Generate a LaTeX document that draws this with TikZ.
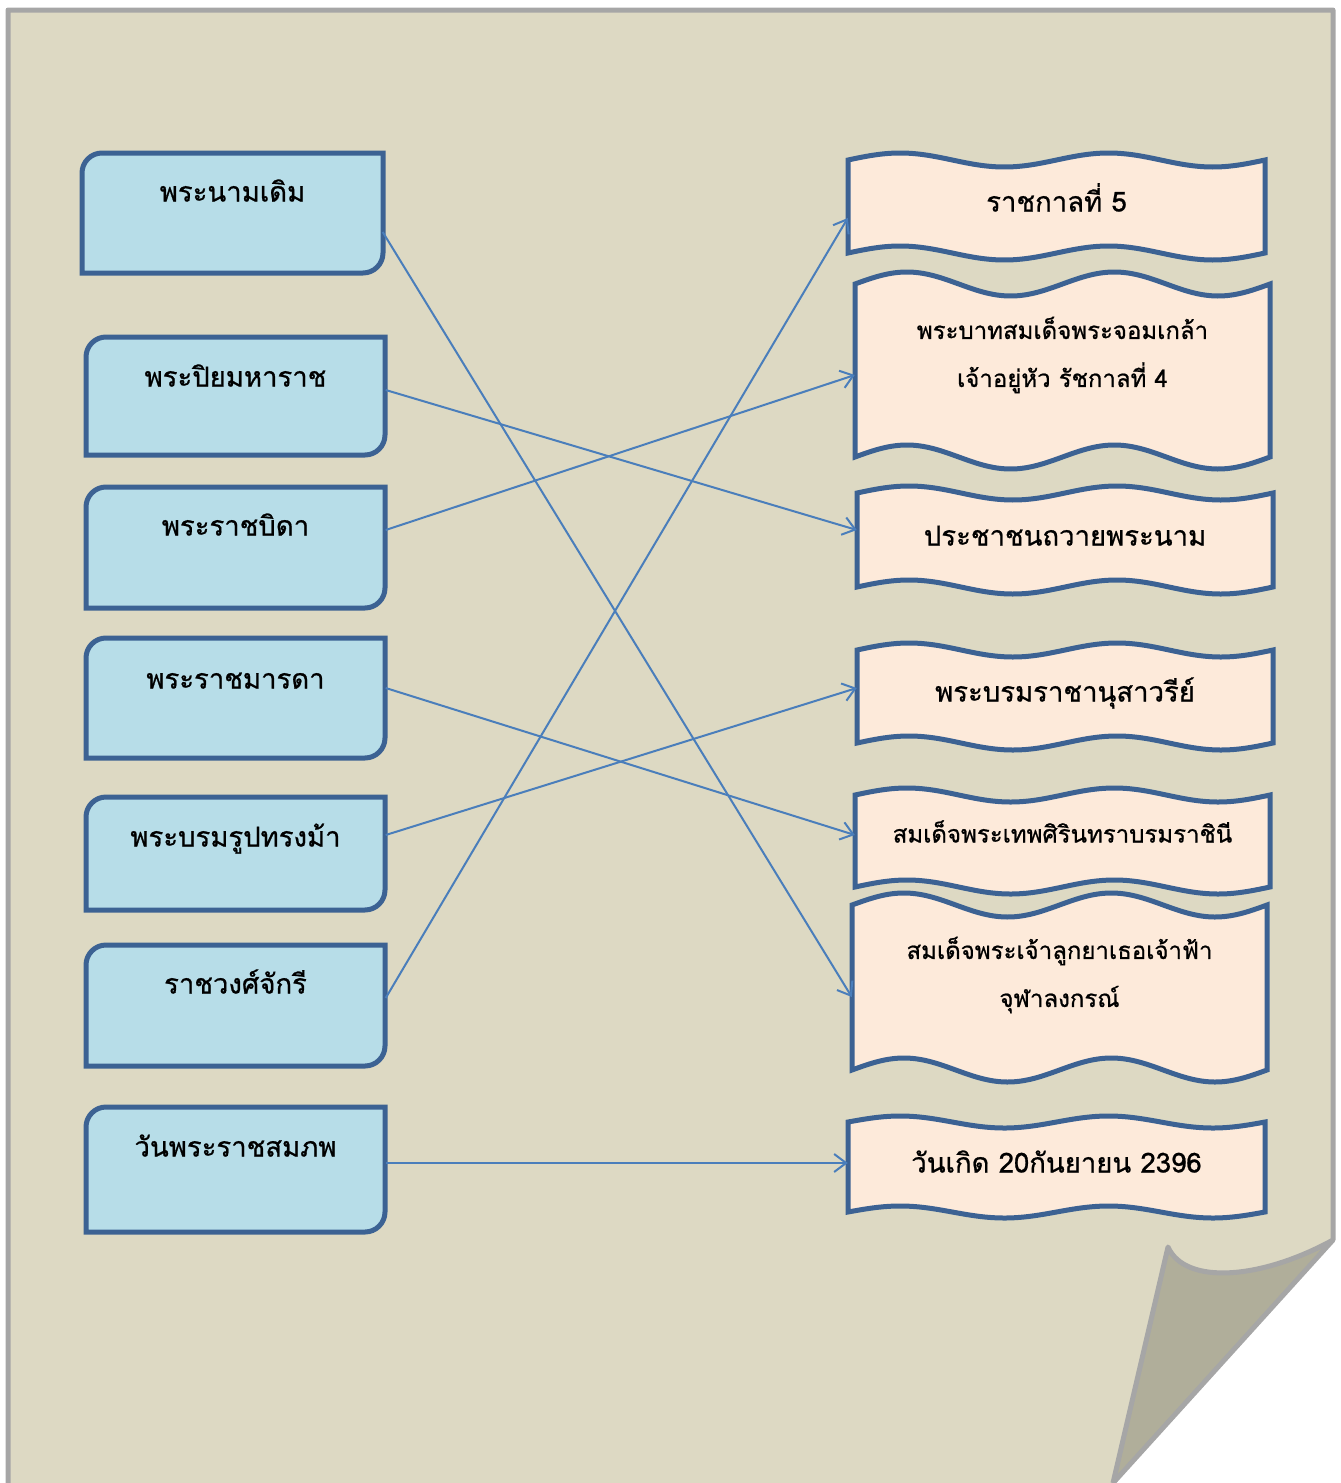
\documentclass[tikz,border=0pt]{standalone}
\usepackage{fontspec}
\newfontfamily\thai[Script=Thai,FakeBold=0.8]{Loma}
\usepackage{tikz}
\usetikzlibrary{calc,arrows.meta}
\definecolor{paper}{HTML}{DDD9C3}
\definecolor{paperfold}{HTML}{B0AE9A}
\definecolor{paperedge}{HTML}{A6A6A6}
\definecolor{boxblue}{HTML}{B7DDE8}
\definecolor{boxpeach}{HTML}{FDEADA}
\definecolor{boxedge}{HTML}{3C6293}
\definecolor{linkblue}{HTML}{4A7EBB}
\def\snipbox(#1,#2)(#3,#4){\draw[snip] (#1+20,#2) -- (#3,#2) -- (#3,#4-20) .. controls (#3,#4-9) and (#3-9,#4) .. (#3-20,#4) -- (#1,#4) -- (#1,#2+20) .. controls (#1,#2+9) and (#1+9,#2) .. (#1+20,#2) -- cycle;}
\def\wavebox(#1,#2)(#3,#4)[#5]{\draw[wave] plot[domain=#1:#3, samples=80, smooth] (\x, {#2-#5*sin((\x-#1)/(#3-#1)*720)}) -- plot[domain=#3:#1, samples=80, smooth] (\x, {#4-#5*sin((\x-#1)/(#3-#1)*720)}) -- cycle;}

\begin{document}
\begin{tikzpicture}[x=1pt, y=-1pt,
		snip/.style={line width=5, draw=boxedge, fill=boxblue},
		wave/.style={line width=5, draw=boxedge, fill=boxpeach},
		lefttext/.style={font=\thai\fontsize{27.5}{32}\selectfont, minimum width=300, text height=20, text depth=7, inner sep=0},
		righttext/.style={font=\thai\fontsize{27.5}{32}\selectfont, text height=20, text depth=7, inner sep=0},
		twoline/.style={font=\thai\fontsize{24}{48}\selectfont, align=center, inner sep=0},
		link/.style={draw=linkblue, line width=2, -{Straight Barb[length=12, width=18, line width=2]}}]
			%%%%% START %%%%%
			\useasboundingbox (0,0) rectangle (1341,1483);
			
			% paper with curled corner
			\fill[paper] (8,1483) -- (8,10) -- (1333,10) -- (1333,1240) .. controls (1260,1280) and (1185,1285) .. (1168,1247) -- (1113,1483) -- cycle;
			\fill[paperfold] (1333,1240) .. controls (1260,1280) and (1185,1285) .. (1168,1247) -- (1113,1483) -- cycle;
			\draw[line width=5, draw=paperedge, line join=round] (8,1483) -- (8,10) -- (1333,10) -- (1333,1240) .. controls (1260,1280) and (1185,1285) .. (1168,1247) -- (1113,1483);
			\draw[line width=5, draw=paperedge] (1333,1240) -- (1113,1483);
			
			% left column
			\snipbox(82,153)(383,273)
			\snipbox(86,337)(385,455)
			\snipbox(86,487)(385,608)
			\snipbox(86,638)(385,758)
			\snipbox(86,797)(385,910)
			\snipbox(86,945)(385,1066)
			\snipbox(86,1107)(385,1232)
			
			\node[lefttext] (L1) at (232.5,195) {พระนามเดิม};
			\node[lefttext] (L2) at (235.5,380) {พระปิยมหาราช};
			\node[lefttext] (L3) at (235.5,529) {พระราชบิดา};
			\node[lefttext] (L4) at (235.5,682) {พระราชมารดา};
			\node[lefttext] (L5) at (235.5,840) {พระบรมรูปทรงม้า};
			\node[lefttext] (L6) at (235.5,987) {ราชวงศ์จักรี};
			\node[lefttext] (L7) at (235.5,1150) {วันพระราชสมภพ};
			
			% right column
			\wavebox(848,160)(1265,253)[7]
			\wavebox(855,284)(1270,457)[12]
			\wavebox(857,493)(1273,587)[7]
			\wavebox(857,650)(1273,743)[7]
			\wavebox(855,795)(1270,887)[7]
			\wavebox(852,905)(1267,1070)[12]
			\wavebox(848,1122)(1265,1212)[6]
			
			\node[righttext, minimum width=417] (R1) at (1056.5,205) {ราชกาลที่ 5};
			\node[twoline, minimum width=415] (R2) at (1062.5,355) {พระบาทสมเด็จพระจอมเกล้า\\เจ้าอยู่หัว รัชกาลที่ 4};
			\node[righttext, minimum width=416] (R3) at (1065,539) {ประชาชนถวายพระนาม};
			\node[righttext, minimum width=416] (R4) at (1065,695) {พระบรมราชานุสาวรีย์};
			\node[righttext, minimum width=415, font=\thai\fontsize{24}{32}\selectfont] (R5) at (1062.5,836) {สมเด็จพระเทพศิรินทราบรมราชินี};
			\node[twoline, minimum width=415] (R6) at (1059.5,975) {สมเด็จพระเจ้าลูกยาเธอเจ้าฟ้า\\จุฬาลงกรณ์};
			\node[righttext, minimum width=417] (R7) at (1056.5,1166) {วันเกิด 20กันยายน 2396};
			
			% matching lines
			\draw[link] ($(L1.east)+(0,37)$) -- ($(R6.west)+(0,22)$);
			\draw[link] ($(L2.east)+(0,10)$) -- ($(R3.west)+(0,-9)$);
			\draw[link] ($(L3.east)+(0,1)$) -- ($(R2.west)+(0,20)$);
			\draw[link] ($(L4.east)+(0,6)$) -- ($(R5.west)+(0,-1)$);
			\draw[link] ($(L5.east)+(0,-5)$) -- ($(R4.west)+(0,-7)$);
			\draw[link] ($(L6.east)+(0,11)$) -- ($(R1.west)+(0,13)$);
			\draw[link] ($(L7.east)+(0,13)$) -- ($(R7.west)+(0,-3)$);
			
			%%%%% END %%%%%
\end{tikzpicture}
\end{document}
